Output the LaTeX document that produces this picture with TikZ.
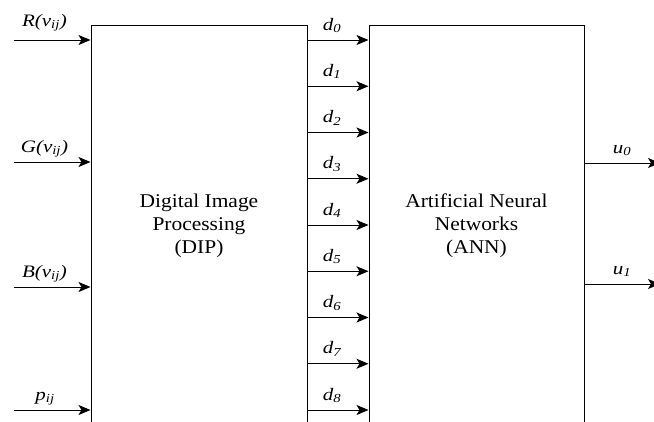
\documentclass[tikz,border=0pt]{standalone}
\usepackage{fontspec}
\setmainfont{Liberation Serif}
\newfontfamily\blkfont{Liberation Serif}[FakeStretch=1.1]
\newfontfamily\lblfont{Liberation Serif}[FakeStretch=1.2]
\usetikzlibrary{arrows.meta}
\begin{document}
\begin{tikzpicture}[x=1pt,y=-1pt,
  arr/.style={-{Stealth[length=12pt,width=10pt,inset=3pt]}, line width=1pt},
  blk/.style={draw, line width=1pt, rectangle, inner sep=0pt, align=center,
    font=\blkfont\fontsize{19.5}{23}\selectfont},
  lbl/.style={font=\lblfont\fontsize{17.5}{20}\selectfont\itshape, inner sep=0pt, anchor=base}]
\useasboundingbox (0,0) rectangle (654,421);
\clip (0,0) rectangle (654,421);
\node[blk, minimum width=216pt, minimum height=401pt] (dip) at (199,225.5)
  {Digital Image\\Processing\\(DIP)};
\node[blk, minimum width=215pt, minimum height=401pt] (ann) at (476.5,225.5)
  {Artificial Neural\\Networks\\(ANN)};
% inputs
\coordinate (inR) at (14,40);
\coordinate (inG) at (14,162);
\coordinate (inB) at (14,287);
\coordinate (inP) at (14,410);
\draw[arr] (inR) -- (inR -| dip.west);
\draw[arr] (inG) -- (inG -| dip.west);
\draw[arr] (inB) -- (inB -| dip.west);
\draw[arr] (inP) -- (inP -| dip.west);
\node[lbl] (lR) at (44.5,26) {R(v\textsubscript{ij})};
\node[lbl] (lG) at (44.5,152) {G(v\textsubscript{ij})};
\node[lbl] (lB) at (44.5,277) {B(v\textsubscript{ij})};
\node[lbl] (lP) at (45,400) {p\textsubscript{ij}};
% d connections
\foreach \i in {0,...,8} {
  \coordinate (d\i) at (0,{40+46.25*\i});
  \draw[arr] (d\i -| dip.east) -- (d\i -| ann.west);
  \node[lbl] (ld\i) at (332,{30+46.25*\i}) {d\textsubscript{\i}};
}
% outputs
\coordinate (o0) at (660,163);
\coordinate (o1) at (660,284);
\draw[arr] (o0 -| ann.east) -- (o0);
\draw[arr] (o1 -| ann.east) -- (o1);
\node[lbl] (lu0) at (622,153) {u\textsubscript{0}};
\node[lbl] (lu1) at (622,274) {u\textsubscript{1}};
\end{tikzpicture}
\end{document}
